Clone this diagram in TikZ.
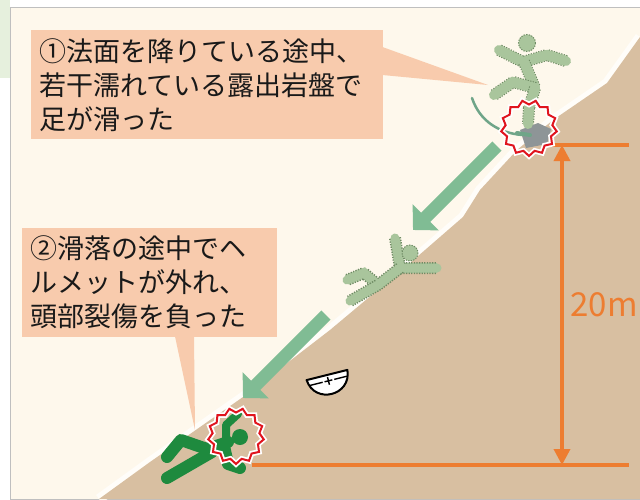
\documentclass[tikz,border=0pt]{standalone}
\usepackage{fontspec}
\setmainfont{Noto Sans CJK JP}
\usetikzlibrary{shapes.geometric,calc,arrows.meta}

\definecolor{sidegreen}{HTML}{E6F0DD}
\definecolor{panelbg}{HTML}{FEF8EC}
\definecolor{slopetan}{HTML}{D8BFA1}
\definecolor{calloutfill}{HTML}{F8CBAD}
\definecolor{dimorange}{HTML}{ED7D31}
\definecolor{arrowgreen}{HTML}{80BC94}
\definecolor{ghostgreen}{HTML}{A9C59C}
\definecolor{ghostline}{HTML}{6F8C64}
\definecolor{swishgreen}{HTML}{6FA588}
\definecolor{victimgreen}{HTML}{1E8A3E}
\definecolor{burstred}{HTML}{E0141E}
\definecolor{rockgray}{HTML}{8E9597}

\begin{document}
\begin{tikzpicture}[x=1pt,y=-1pt,
  callout/.style={fill=calloutfill, anchor=north west, inner xsep=8pt, inner ysep=0pt,
    align=left, text=black!90, font=\fontsize{27}{34}\selectfont},
  fallarrow/.style={arrowgreen, line width=13pt, -{Triangle[length=18pt,width=36pt]}},
  dimline/.style={dimorange, line width=3.5pt},
  burst/.style={star, star points=13, star point ratio=0.84, minimum size=47pt,
    draw=burstred, line width=2pt, preaction={draw=white, line width=5.5pt}},
  ghost/.style={ghostgreen, line width=10pt, line cap=round, line join=round,
    preaction={draw=ghostgreen, line width=10pt},
    preaction={draw=ghostline, line width=12pt, line cap=butt, dash pattern=on 1.3pt off 1.3pt}},
  victim/.style={victimgreen, line width=12pt, line cap=round, line join=round}]

  \useasboundingbox (0,0) rectangle (640,499);
  \fill[white] (0,0) rectangle (640,499);
  \fill[sidegreen] (0,0) rectangle (10,78);
  \filldraw[fill=panelbg, draw=black!25, line width=0.8pt] (640,7) -- (10,7) -- (10,499) -- (640,499);

  % slope
  \draw[panelbg!30!white, line width=10pt, line join=round]
    (99,499) -- (150,462) -- (243,397) -- (330,330) -- (410,263) -- (463,217)
    -- (480,190) -- (517,150) -- (553,120) -- (607,83) -- (640,37);
  \fill[slopetan]
    (99,499) -- (150,462) -- (243,397) -- (330,330) -- (410,263) -- (463,217)
    -- (480,190) -- (517,150) -- (553,120) -- (607,83) -- (640,37) -- (640,499) -- cycle;

  % height of the fall
  \coordinate (topl) at (547,145);
  \coordinate (topr) at (629,145);
  \coordinate (botl) at (252,465);
  \coordinate (botr) at (629,465);
  \draw[dimline] (topl) -- (topr);
  \draw[dimline] (botl) -- (botr);
  \draw[dimline, {Triangle[length=16pt,width=16pt]}-{Triangle[length=16pt,width=16pt]}]
    (562,145) -- (562,465);
  \node (height) at (604,305) [dimorange, font=\fontsize{33}{33}\selectfont] {20m};

  % direction of the fall
  \draw[fallarrow] (497,146) -- (413,230);
  \draw[fallarrow] (326,315) -- (243,398);

  % slipping on the rock
  \draw[swishgreen, line width=2.5pt, line cap=round]
    (472,98) .. controls (480,122) and (500,133) .. (522,135);
  \fill[rockgray] (520,130) -- (538,123) -- (551,129) -- (547,144) -- (526,148) -- cycle;
  \draw[ghost] (499,50) -- (523,62) -- (547,55) -- (566,61);
  \draw[ghost] (524,62) -- (535,88);
  \draw[ghost] (535,88) -- (513,82) -- (494,95);
  \draw[ghost] (535,88) -- (529,108) -- (528,124);
  \filldraw[fill=ghostgreen, draw=ghostline, line width=1pt, dash pattern=on 1.3pt off 1.3pt]
    (527,43) circle (8.5);
  \draw[swishgreen, line width=4pt, line cap=round] (517,133) -- (530,135);
  \node (slip) at (529,128) [burst] {};

  % sliding down
  \draw[ghost, line width=9pt] (395,238) -- (400,268) -- (437,268);
  \draw[ghost, line width=9pt] (400,268) -- (378,285) -- (364,273) -- (347,280);
  \draw[ghost, line width=9pt] (378,285) -- (350,301);
  \filldraw[fill=ghostgreen, draw=ghostline, line width=1pt, dash pattern=on 1.3pt off 1.3pt]
    (410,253) circle (8);

  % helmet left on the slope
  \begin{scope}[shift={(327,375)}, rotate=14]
    \filldraw[fill=white, draw=black, line width=2pt, line join=round]
      (-21,0) -- (21,0) .. controls (19,26) and (-19,26) .. (-21,0) -- cycle;
    \draw[black, line width=1.4pt] (-19,6) -- (-6,6) (6,6) -- (19,6)
      (-4,6) -- (4,6) (0,2) -- (0,10);
  \end{scope}

  % injured worker at the bottom
  \draw[victim] (207,449) -- (228,442);
  \draw[victim] (207,449) -- (181,440) -- (167,457);
  \draw[victim] (212,452) -- (167,478);
  \draw[victim] (224,446) -- (228,464) -- (240,468);
  \draw[victim, line width=8pt] (226,448) -- (226,425) -- (238,414);
  \fill[victimgreen] (240,437) circle (8);
  \node (hit) at (236,436) [burst] {};

  % callouts
  \coordinate (slipmark) at (488,85);
  \coordinate (hitmark) at (195,430);
  \node (slipnote) at (31,30) [callout, text width=336pt, minimum height=109pt]
    {①法面を降りている途中、\\若干濡れている露出岩盤で\\足が滑った};
  \fill[calloutfill] ($(slipnote.north east)+(-1,17)$) -- (slipmark)
    -- ($(slipnote.north east)+(-1,45)$) -- cycle;
  \node (hitnote) at (22,228) [callout, text width=239pt, minimum height=109pt]
    {②滑落の途中でヘ\\ルメットが外れ、\\頭部裂傷を負った};
  \fill[calloutfill] ($(hitnote.south west)+(153,-1)$) -- (hitmark)
    -- ($(hitnote.south west)+(172,-1)$) -- cycle;
\end{tikzpicture}
\end{document}
